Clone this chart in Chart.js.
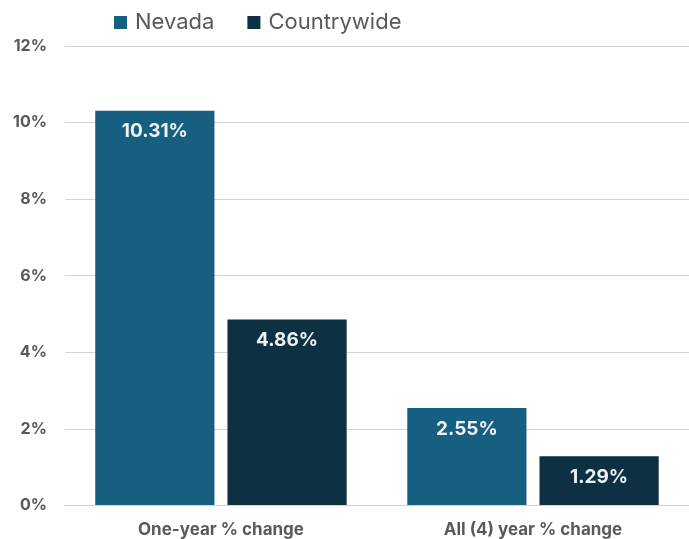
<!DOCTYPE html>
<html>
<head>
<meta charset="utf-8">
<script src="https://cdn.jsdelivr.net/npm/chart.js@4"></script>
<style>
  html, body { margin: 0; padding: 0; background: #ffffff; }
  #wrap { width: 689px; height: 539px; }
</style>
</head>
<body>
<div id="wrap"><canvas id="changeChart" width="689" height="539"></canvas></div>
<script>
// Percent change, Nevada vs countrywide
const categories = ["One-year % change", "All (4) year % change"];
const nevada = [10.31, 2.55];
const countrywide = [4.86, 1.29];
const yTicks = [0, 2, 4, 6, 8, 10, 12];

const FONT = "Inter, 'Liberation Sans', sans-serif";
const TEXT_GRAY = "#595959";

// Value labels drawn just inside the top of each bar
const barLabels = {
  id: "barLabels",
  afterDatasetsDraw(chart) {
    const ctx = chart.ctx;
    ctx.save();
    ctx.font = "bold 19px " + FONT;
    ctx.fillStyle = "#eef3f6";
    ctx.textAlign = "center";
    ctx.textBaseline = "middle";
    chart.data.datasets.forEach((ds, i) => {
      chart.getDatasetMeta(i).data.forEach((bar, j) => {
        ctx.fillText(ds.data[j].toFixed(2) + "%", bar.x, bar.y + 21);
      });
    });
    ctx.restore();
  },
};

// Legend row above the plot, left of centre
const topLegend = {
  id: "topLegend",
  afterDraw(chart) {
    const ctx = chart.ctx;
    ctx.save();
    ctx.font = "22px " + FONT;
    ctx.textBaseline = "middle";
    ctx.textAlign = "left";
    let x = 114;
    const y = 22;
    chart.data.datasets.forEach((ds) => {
      ctx.fillStyle = ds.backgroundColor;
      ctx.fillRect(x, y - 6, 13, 13);
      ctx.fillStyle = TEXT_GRAY;
      ctx.fillText(ds.label, x + 21, y);
      x += 21 + ctx.measureText(ds.label).width + 33;
    });
    ctx.restore();
  },
};

const config = {
  type: "bar",
  data: {
    labels: categories,
    datasets: [
      {
        label: "Nevada",
        data: nevada,
        backgroundColor: "#175f80",
        categoryPercentage: 0.8475,
        barPercentage: 0.9015,
      },
      {
        label: "Countrywide",
        data: countrywide,
        backgroundColor: "#0e3043",
        categoryPercentage: 0.8475,
        barPercentage: 0.9015,
      },
    ],
  },
  options: {
    responsive: false,
    animation: false,
    layout: { padding: { top: 46, right: 0, bottom: -15, left: -5 } },
    plugins: {
      legend: { display: false },
      tooltip: { enabled: false },
    },
    scales: {
      x: {
        grid: { display: false, drawTicks: false },
        border: { color: "#d4d4d4" },
        ticks: {
          color: TEXT_GRAY,
          padding: 14,
          font: { family: FONT, size: 17, weight: "bold" },
        },
      },
      y: {
        min: 0,
        max: 12,
        afterBuildTicks(axis) {
          axis.ticks = yTicks.map((v) => ({ value: v }));
        },
        grid: { color: "#d4d4d4", drawTicks: false },
        border: { display: false },
        ticks: {
          color: TEXT_GRAY,
          padding: 18,
          font: { family: FONT, size: 16, weight: "bold" },
          callback: (v) => v + "%",
        },
      },
    },
  },
  plugins: [barLabels, topLegend],
};

new Chart(document.getElementById("changeChart"), config);
</script>
</body>
</html>
